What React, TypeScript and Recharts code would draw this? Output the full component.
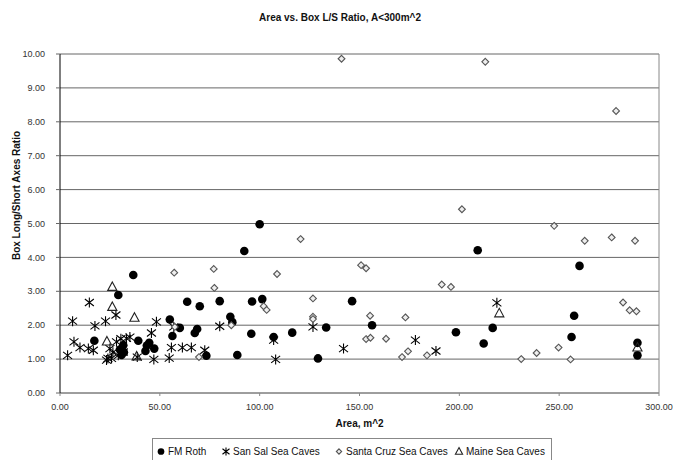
import React from 'react';
import {
  ScatterChart,
  Scatter,
  XAxis,
  YAxis,
  CartesianGrid,
  Legend,
  ReferenceLine,
  Label,
} from 'recharts';

const xTicks = [0, 50, 100, 150, 200, 250, 300];
const yTicks = [0, 1, 2, 3, 4, 5, 6, 7, 8, 9, 10];

const fmRoth: [number, number][] = [
  [36.7, 3.48], [29.2, 2.89], [17.2, 1.54], [39.2, 1.54], [30, 1.28], [31.7, 1.41],
  [30.8, 1.12], [32, 1.2], [42.8, 1.24], [44.7, 1.48], [47.2, 1.31], [43.5, 1.4],
  [55, 2.17], [56.3, 1.68], [60, 1.92], [63.7, 2.69], [67.5, 1.77], [68.7, 1.89],
  [70, 2.56], [73.3, 1.1], [80, 2.71], [85.3, 2.25], [86.3, 2.09], [88.8, 1.12],
  [92.3, 4.19], [96.2, 2.7], [95.8, 1.75], [100, 4.98], [101.3, 2.77], [107, 1.65],
  [116.3, 1.78], [129.2, 1.02], [133.3, 1.93], [146.3, 2.71], [156.3, 2.0], [198.3, 1.79],
  [209.2, 4.21], [212.2, 1.46], [216.7, 1.92], [257.5, 2.28], [256.2, 1.65], [260.2, 3.75],
  [289.2, 1.48], [289.2, 1.11],
];

const sanSal: [number, number][] = [
  [3.8, 1.11], [6.3, 2.12], [7, 1.51], [10, 1.34], [14.7, 2.67], [14.2, 1.31],
  [16.7, 1.26], [17.5, 1.98], [22.8, 2.12], [28, 2.3], [23.3, 0.97], [25.8, 1.02],
  [24, 1.02], [25, 1.31], [26.5, 1.2], [28.3, 1.51], [29.2, 1.11], [31.7, 1.21],
  [30.5, 1.6], [33.3, 1.61], [35, 1.65], [38.7, 1.06], [45.8, 1.77], [48.3, 2.1],
  [47, 0.99], [54.7, 1.03], [55.8, 1.34], [57, 1.95], [61.3, 1.34], [65.8, 1.34],
  [72.5, 1.26], [80, 1.97], [107, 1.56], [108, 0.99], [126.7, 1.95], [142, 1.31],
  [178, 1.56], [188.3, 1.24], [218.8, 2.66],
];

const santaCruz: [number, number][] = [
  [57.2, 3.55], [77, 3.66], [77.3, 3.1], [108.7, 3.51], [120.5, 4.54], [102, 2.56],
  [103.5, 2.45], [85.8, 2.0], [126.7, 2.79], [126.7, 2.25], [126.7, 2.18], [69.6, 1.06],
  [57.5, 1.95], [141, 9.86], [213, 9.77], [278.5, 8.32], [201.3, 5.42], [247.5, 4.93],
  [262.8, 4.49], [276.3, 4.59], [288, 4.49], [150.8, 3.77], [153.3, 3.68], [191.2, 3.2],
  [195.8, 3.13], [282, 2.67], [285.3, 2.44], [288.7, 2.41], [155.3, 2.28], [173, 2.23],
  [153.3, 1.59], [155.5, 1.63], [163.3, 1.6], [171.3, 1.06], [174.3, 1.23], [183.8, 1.11],
  [231, 1.0], [238.7, 1.18], [249.7, 1.34], [255.7, 0.99],
];

const maine: [number, number][] = [
  [26.2, 3.13], [26.2, 2.54], [37.3, 2.22], [23.5, 1.52], [38.4, 1.08], [220, 2.35],
  [289.2, 1.34],
];

const seriesNames = ['FM Roth', 'San Sal Sea Caves', 'Santa Cruz Sea Caves', 'Maine Sea Caves'];

const toPoints = (arr: [number, number][]) => arr.map(([x, y]) => ({ x, y }));

const FONT = 'Arial, "Liberation Sans", sans-serif';

const CircleShape = (p: any) => <circle cx={p.cx} cy={p.cy} r={4.3 * (p.k ?? 1)} fill="#000" />;
const StarShape = (p: any) => {
  const { cx, cy } = p;
  const k = p.k ?? 1;
  const d = `M${cx},${cy - 5 * k}L${cx},${cy + 5 * k}M${cx - 4.5 * k},${cy - 3.5 * k}L${cx + 4.5 * k},${cy + 3.5 * k}M${cx - 4.5 * k},${cy + 3.5 * k}L${cx + 4.5 * k},${cy - 3.5 * k}`;
  return <path d={d} stroke="#000" strokeWidth={1.1} fill="none" />;
};
const DiamondShape = (p: any) => {
  const { cx, cy } = p;
  const s = 3.4 * (p.k ?? 1);
  const d = `M${cx},${cy - s}L${cx + s},${cy}L${cx},${cy + s}L${cx - s},${cy}Z`;
  return <path d={d} stroke="#555" strokeWidth={1.1} fill="#eee" />;
};
const TriangleShape = (p: any) => {
  const { cx, cy } = p;
  const k = p.k ?? 1;
  const d = `M${cx},${cy - 5 * k}L${cx + 4.6 * k},${cy + 3.5 * k}L${cx - 4.6 * k},${cy + 3.5 * k}Z`;
  return <path d={d} stroke="#222" strokeWidth={1.1} fill="none" />;
};

const shapes = [CircleShape, StarShape, DiamondShape, TriangleShape];

const LegendContent = () => {
  const lefts = [3, 68, 181, 301];
  return (
    <div
      style={{
        position: 'relative',
        width: 400,
        height: 24,
        borderTop: '1px solid #888',
        borderLeft: '1px solid #888',
        borderRight: '1px solid #888',
        fontFamily: FONT,
        fontSize: 10,
        color: '#111',
        boxSizing: 'border-box',
        background: '#fff',
      }}
    >
      {seriesNames.map((name, i) => {
        const Shape = shapes[i];
        return (
          <div
            key={name}
            style={{ position: 'absolute', left: lefts[i], top: 7, display: 'flex', alignItems: 'center', whiteSpace: 'nowrap' }}
          >
            <svg width={10} height={11} style={{ marginRight: 2 }}>
              <Shape cx={5} cy={5.5} k={0.78} />
            </svg>
            <span style={{ lineHeight: '11px' }}>{name}</span>
          </div>
        );
      })}
    </div>
  );
};

const YLabel = (props: any) => {
  const vb = props.viewBox || {};
  const x = 16;
  const y = (vb.y ?? 54) + (vb.height ?? 339) / 2 - 28;
  return (
    <text
      x={x}
      y={y}
      transform={`rotate(-90, ${x}, ${y})`}
      textAnchor="middle"
      dominantBaseline="central"
      fontFamily={FONT}
      fontSize={10}
      fontWeight="bold"
      fill="#111"
    >
      Box Long/Short Axes Ratio
    </text>
  );
};

export default function App() {
  const tickStyle = { fontSize: 9, fill: '#333', fontFamily: FONT };
  return (
    <div style={{ position: 'absolute', left: 0, top: 0, width: 674, height: 460, background: '#fff' }}>
      <div
        style={{
          position: 'absolute',
          left: 0,
          width: 674,
          top: 12,
          textAlign: 'center',
          fontFamily: FONT,
          fontSize: 10,
          fontWeight: 'bold',
          color: '#111',
          paddingLeft: 6,
          boxSizing: 'border-box',
        }}
      >
        Area vs. Box L/S Ratio, A&lt;300m^2
      </div>
      <ScatterChart width={674} height={460} margin={{ top: 54, right: 15, bottom: 31, left: 0 }}>
        <CartesianGrid horizontal vertical={false} stroke="#666" strokeWidth={1} />
        <XAxis
          type="number"
          dataKey="x"
          domain={[0, 300]}
          ticks={xTicks}
          tickFormatter={(v: number) => v.toFixed(2)}
          tick={tickStyle}
          tickSize={3}
          tickMargin={8}
          axisLine={{ stroke: '#888' }}
          tickLine={{ stroke: '#888' }}
          height={36}
          interval={0}
        >
          <Label
            value="Area, m^2"
            position="insideBottom"
            offset={2}
            style={{ fontSize: 10, fontWeight: 'bold', fill: '#111', fontFamily: FONT }}
          />
        </XAxis>
        <YAxis
          type="number"
          dataKey="y"
          domain={[0, 10]}
          ticks={yTicks}
          tickFormatter={(v: number) => v.toFixed(2)}
          tick={tickStyle}
          tickSize={4}
          tickMargin={11}
          axisLine={{ stroke: '#000' }}
          tickLine={{ stroke: '#666' }}
          width={60}
          interval={0}
        >
          <Label content={<YLabel />} />
        </YAxis>
        <ReferenceLine x={300} stroke="#888" />
        <Scatter name={seriesNames[0]} data={toPoints(fmRoth)} shape={CircleShape} isAnimationActive={false} />
        <Scatter name={seriesNames[1]} data={toPoints(sanSal)} shape={StarShape} isAnimationActive={false} />
        <Scatter name={seriesNames[2]} data={toPoints(santaCruz)} shape={DiamondShape} isAnimationActive={false} />
        <Scatter name={seriesNames[3]} data={toPoints(maine)} shape={TriangleShape} isAnimationActive={false} />
        <Legend
          layout="horizontal"
          verticalAlign="middle"
          align="center"
          content={<LegendContent />}
          wrapperStyle={{ left: 152, top: 438, width: 401, height: 24 }}
        />
      </ScatterChart>
    </div>
  );
}
